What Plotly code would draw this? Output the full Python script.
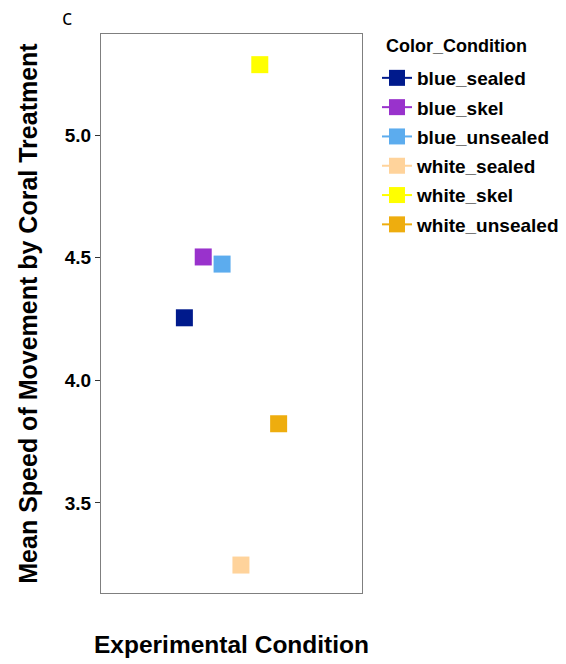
import plotly.graph_objects as go

conditions = ["blue_sealed", "blue_skel", "blue_unsealed", "white_sealed", "white_skel", "white_unsealed"]
mean_speed = [4.255, 4.503, 4.474, 3.247, 5.287, 3.823]
se = [0.02, 0.03, 0.02, 0.02, 0.02, 0.02]
colors = ["#001A8C", "#9932CC", "#5CACEE", "#FFD39B", "#FFFF00", "#EEAD0E"]
x_category = "Experimental Condition"
y_ticks = [3.5, 4.0, 4.5, 5.0]
y_ticktext = ["3.5", "4.0", "4.5", "5.0"]

FONT = "Liberation Sans, Arial, sans-serif"

W, H = 566, 664
L, R, T, B = 101, 204, 34, 71
PW, PH = W - L - R, H - T - B


def px_x(x):
    return (x - L) / PW


def px_y(y):
    return 1 - (y - T) / PH


fig = go.Figure()
for name, val, err, col in zip(conditions, mean_speed, se, colors):
    fig.add_trace(go.Scatter(
        x=[x_category], y=[val], name=name, legendgroup=name,
        mode="lines+markers",
        marker=dict(symbol="square", size=17, color=col, line=dict(width=0)),
        line=dict(color=col, width=2),
        error_y=dict(type="data", array=[err], color=col, thickness=2, width=0),
    ))

fig.update_layout(
    width=W, height=H,
    margin=dict(l=L, r=R, t=T, b=B, autoexpand=False),
    paper_bgcolor="white", plot_bgcolor="white",
    scattermode="group", scattergap=0.48,
    font=dict(family=FONT, color="black"),
    showlegend=True,
    legend=dict(
        x=377 / W, xanchor="left", y=1 - 59 / H, yanchor="top", xref="container", yref="container",
        font=dict(size=19, family=FONT, weight="bold"), tracegroupgap=1.6,
        bgcolor="rgba(0,0,0,0)", itemwidth=30,
    ),
    xaxis=dict(
        type="category", range=[-0.6, 0.6], showticklabels=False, ticks="",
        showgrid=False, zeroline=False,
        showline=True, mirror=True, linecolor="#7F7F7F", linewidth=1,
        title=dict(text="<b>Experimental Condition</b>", font=dict(size=24.5, family=FONT), standoff=42),
    ),
    yaxis=dict(
        range=[3.133, 5.412], tickvals=y_ticks, ticktext=y_ticktext,
        ticks="outside", ticklen=5, tickcolor="#333333",
        tickfont=dict(size=19, family=FONT, weight="bold"),
        showgrid=False, zeroline=False,
        showline=True, mirror=True, linecolor="#7F7F7F", linewidth=1,
        title=dict(text="<b>Mean Speed of Movement by Coral Treatment</b>", font=dict(size=25, family=FONT), standoff=20),
    ),
    annotations=[
        dict(text="c", x=px_x(60), y=px_y(17), xref="paper", yref="paper", showarrow=False,
             xanchor="left", yanchor="middle",
             font=dict(size=21, family="Open Sans, DejaVu Sans, sans-serif")),
        dict(text="<b>Color_Condition</b>", x=px_x(384), y=px_y(46), xref="paper", yref="paper",
             showarrow=False, xanchor="left", yanchor="middle",
             font=dict(size=18, family=FONT)),
    ],
)

fig.write_html("out.html", config={"displayModeBar": False},
               post_script="document.body.style.margin='0';")
